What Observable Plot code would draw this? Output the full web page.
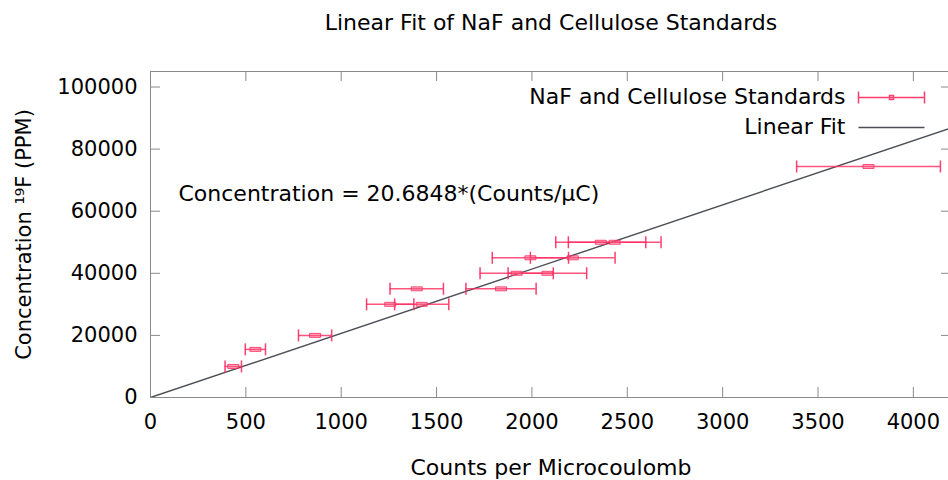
<!DOCTYPE html>
<html>
<head>
<meta charset="utf-8">
<script src="https://cdn.jsdelivr.net/npm/d3@7"></script>
<script src="https://cdn.jsdelivr.net/npm/@observablehq/plot@0.6"></script>
<style>
  html, body { margin: 0; padding: 0; background: #fff; }
  #chart { width: 948px; height: 480px; overflow: hidden; }
  #chart svg { overflow: hidden; }
</style>
</head>
<body>
<div id="chart"></div>
<script>
// ---- data ----
const countsPerUC   = [434, 550, 863, 1257, 1422, 1396, 1838, 1920, 2081, 1992, 2214, 2361, 2434, 3765];
const concentration = [10000, 15500, 20000, 30000, 30000, 35000, 35000, 40000, 40000, 45000, 45000, 50000, 50000, 74400];
const countsError   = [43, 53, 87, 124, 142, 140, 184, 192, 206, 200, 222, 236, 243, 377];
const fitSlope = 20.6848;
const fitRange = [0, 4200];
const xTicks = [0, 500, 1000, 1500, 2000, 2500, 3000, 3500, 4000];
const yTicks = [0, 20000, 40000, 60000, 80000, 100000];
const titleText = "Linear Fit of NaF and Cellulose Standards";
const xLabel = "Counts per Microcoulomb";
const yLabel = "Concentration \u00B9\u2079F (PPM)";
const seriesLabel = "NaF and Cellulose Standards";
const fitLabel = "Linear Fit";
const fitText = "Concentration = 20.6848*(Counts/\u00B5C)";

// ---- tables built from arrays ----
const points = countsPerUC.map((x, i) => ({x, y: concentration[i], e: countsError[i]}));
const fitLine = fitRange.map(x => ({x, y: fitSlope * x}));

const W = 948, H = 480, ML = 150, MR = -3, MT = 71, MB = 83;
const frameW = W - ML - MR, frameH = H - MT - MB;

const errColor = "#ff2a5f";
const fitColor = "#4b4e57";
const axisColor = "#8a8a8a";

const vCap = {draw(ctx) { ctx.moveTo(0, -6); ctx.lineTo(0, 6); }};
const centerBox = {draw(ctx) { ctx.rect(-5.5, -2, 11, 4); }};
const legendErr = {draw(ctx) {
  ctx.moveTo(-33, 0); ctx.lineTo(33, 0);
  ctx.moveTo(-33, -6); ctx.lineTo(-33, 6);
  ctx.moveTo(33, -6); ctx.lineTo(33, 6);
  ctx.rect(-2, -2, 4, 4);
}};
const legendLine = {draw(ctx) { ctx.moveTo(-33, 0); ctx.lineTo(33, 0); }};

const chart = Plot.plot({
  width: W, height: H,
  marginLeft: ML, marginRight: MR, marginTop: MT, marginBottom: MB,
  style: {fontFamily: "DejaVu Sans", fontSize: "21px", color: "#000", background: "#fff"},
  x: {domain: [0, 4200]},
  y: {domain: [0, 105000]},
  marks: [
    // inward ticks (bottom/top/left/right)
    Plot.gridX(xTicks, {insetTop: frameH - 10, stroke: axisColor, strokeOpacity: 1}),
    Plot.gridX(xTicks, {insetBottom: frameH - 10, stroke: axisColor, strokeOpacity: 1}),
    Plot.gridY(yTicks, {insetRight: frameW - 10, stroke: axisColor, strokeOpacity: 1}),
    Plot.gridY(yTicks, {insetLeft: frameW - 10, stroke: axisColor, strokeOpacity: 1}),
    Plot.frame({stroke: axisColor}),
    Plot.axisX({ticks: xTicks, tickSize: 0, tickPadding: 17, label: null, tickFormat: d => String(d), fontSize: 21}),
    Plot.axisY({ticks: yTicks, tickSize: 0, tickPadding: 13, tickFormat: d => String(d), fontSize: 21,
      label: yLabel, labelAnchor: "center", labelOffset: 134, labelArrow: "none"}),
    // fit line
    Plot.line(fitLine, {x: "x", y: "y", stroke: fitColor, strokeWidth: 1.4, clip: true}),
    // error bars
    Plot.ruleY(points, {y: "y", x1: d => d.x - d.e, x2: d => d.x + d.e, stroke: errColor, strokeWidth: 1.5, strokeOpacity: 0.8}),
    Plot.dot(points, {x: d => d.x - d.e, y: "y", symbol: vCap, fill: "none", stroke: errColor, strokeWidth: 1.5, strokeOpacity: 0.9}),
    Plot.dot(points, {x: d => d.x + d.e, y: "y", symbol: vCap, fill: "none", stroke: errColor, strokeWidth: 1.5, strokeOpacity: 0.9}),
    Plot.dot(points, {x: "x", y: "y", symbol: centerBox, fill: "#ff5c82", fillOpacity: 0.5, stroke: errColor, strokeOpacity: 0.8, strokeWidth: 1}),
    // legend
    Plot.text([seriesLabel], {frameAnchor: "top-right", dx: -106, dy: 25, textAnchor: "end", lineAnchor: "middle", fontSize: 22, fill: "#000"}),
    Plot.dot([seriesLabel], {frameAnchor: "top-right", dx: -60, dy: 26, symbol: legendErr, fill: "none", stroke: errColor, strokeWidth: 1.5, strokeOpacity: 0.9}),
    Plot.text([fitLabel], {frameAnchor: "top-right", dx: -106, dy: 55, textAnchor: "end", lineAnchor: "middle", fontSize: 22, fill: "#000"}),
    Plot.dot([fitLabel], {frameAnchor: "top-right", dx: -60, dy: 56, symbol: legendLine, fill: "none", stroke: fitColor, strokeWidth: 1.5}),
    // annotation
    Plot.text([fitText], {frameAnchor: "top-left", dx: 28, dy: 122, textAnchor: "start", lineAnchor: "middle", fontSize: 22, fill: "#000"}),
    // title and x label
    Plot.text([titleText], {frameAnchor: "top", dy: -49, lineAnchor: "middle", fontSize: 22, fill: "#000"}),
    Plot.text([xLabel], {frameAnchor: "bottom", dy: 70, lineAnchor: "middle", fontSize: 22, fill: "#000"})
  ]
});
document.getElementById("chart").appendChild(chart);
</script>
</body>
</html>
